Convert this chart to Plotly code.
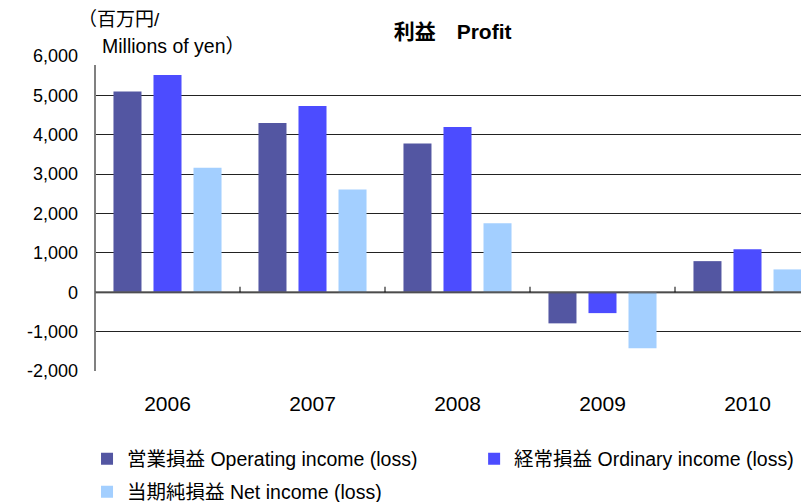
import plotly.graph_objects as go

years = ["2006", "2007", "2008", "2009", "2010"]
operating = [5100, 4300, 3780, -790, 790]
ordinary = [5520, 4730, 4200, -530, 1090]
net = [3160, 2610, 1750, -1420, 580]

names = ["営業損益 Operating income (loss)", "経常損益 Ordinary income (loss)", "当期純損益 Net income (loss)"]
colors = ["#5356A2", "#4C4CFF", "#A3CFFF"]
legend_ids = ["legend", "legend2", "legend3"]
tick_vals = [-2000, -1000, 0, 1000, 2000, 3000, 4000, 5000, 6000]
tick_text = ["-2,000", "-1,000", "0", "1,000", "2,000", "3,000", "4,000", "5,000", "6,000"]

FONT = "Liberation Sans, Arial, Noto Sans CJK JP, sans-serif"

fig = go.Figure()
for nm, vals, col, lg in zip(names, [operating, ordinary, net], colors, legend_ids):
    fig.add_trace(go.Bar(x=years, y=vals, name=nm, legend=lg,
                         marker=dict(color=col, line=dict(width=0))))

legend_common = dict(orientation="h", xanchor="left", yanchor="middle",
                     font=dict(size=19.5, family=FONT), itemwidth=30,
                     bgcolor="rgba(0,0,0,0)", borderwidth=0)

fig.update_layout(
    width=801, height=502,
    margin=dict(l=95, r=0, t=56, b=131, autoexpand=False),
    paper_bgcolor="white", plot_bgcolor="white",
    barmode="group", bargap=0.172, bargroupgap=0.3,
    font=dict(family=FONT, color="#000000"),
    title=dict(text="<b>利益　Profit</b>", xref="container", x=0.565, xanchor="center",
               y=0.936, yanchor="middle",
               font=dict(size=21, family=FONT, color="#000")),
    xaxis=dict(type="category", range=[-0.5, 4.369], showgrid=False, zeroline=False,
               showline=False, ticks="", tickfont=dict(size=21, family=FONT),
               ticklabelstandoff=18),
    yaxis=dict(range=[-2000, 6000], tickvals=tick_vals, ticktext=tick_text,
               showgrid=True, gridcolor="#222222", gridwidth=1,
               zeroline=False, showline=False, ticks="",
               tickfont=dict(size=18, family=FONT), ticklabelstandoff=16),
    legend=dict(x=-0.0113, y=(371 - 459) / 315, **legend_common),
    legend2=dict(x=0.537, y=(371 - 459) / 315, **legend_common),
    legend3=dict(x=-0.0113, y=(371 - 492) / 315, **legend_common),
    showlegend=True,
)

# y axis line (stops below the unit label)
fig.add_shape(type="line", xref="paper", yref="y", x0=0, x1=0, y0=-2000, y1=5770,
              line=dict(color="#808080", width=2), layer="above")
# zero line drawn over bars
fig.add_shape(type="line", xref="paper", yref="y", x0=0, x1=1, y0=0, y1=0,
              line=dict(color="rgba(90,90,90,0.75)", width=2.5), layer="above")
# category boundary ticks on zero line
for i in range(len(years)):
    fig.add_shape(type="line", xref="x", yref="y", x0=i + 0.5, x1=i + 0.5, y0=0, y1=140,
                  line=dict(color="#000", width=1), layer="above")

# y-axis unit label (covers the top gridline under it)
fig.add_annotation(text="（百万円/", xref="paper", yref="paper",
                   x=-0.029, y=1.115, xanchor="left", yanchor="middle",
                   showarrow=False, bgcolor="white", borderpad=2,
                   font=dict(size=19, family=FONT, color="#000"))
fig.add_annotation(text="Millions of yen）", xref="paper", yref="paper",
                   x=0.0045, y=1.032, xanchor="left", yanchor="middle",
                   showarrow=False, bgcolor="white", borderpad=3,
                   font=dict(size=19.5, family=FONT, color="#000"))

fig.write_html("out.html", config={"displayModeBar": False},
               post_script="document.body.style.margin='0';")
